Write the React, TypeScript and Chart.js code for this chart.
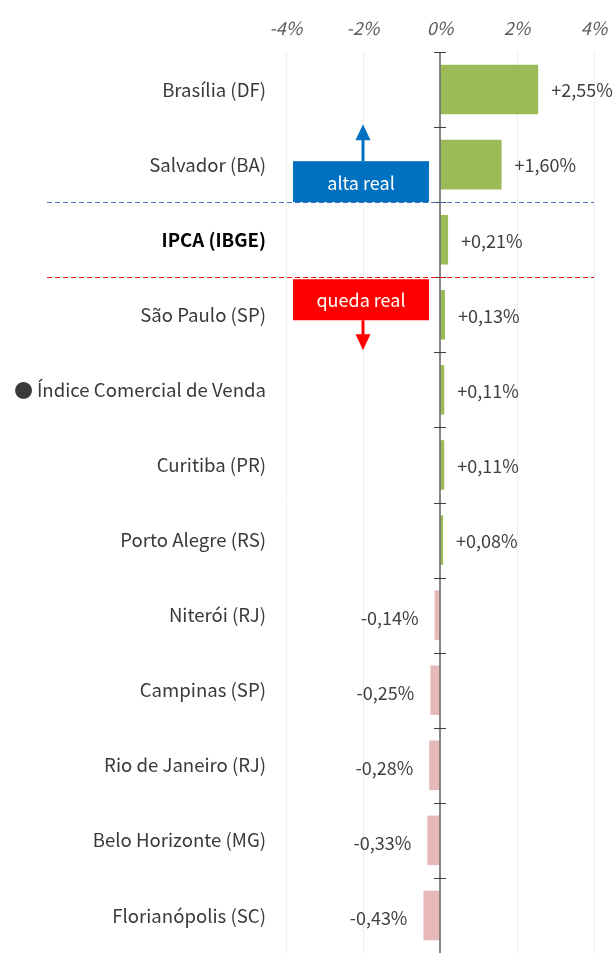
import React, { useEffect, useRef } from "react";
import { Chart, registerables } from "chart.js";

Chart.register(...registerables);

const categories = [
  "Brasília (DF)",
  "Salvador (BA)",
  "IPCA (IBGE)",
  "São Paulo (SP)",
  "● Índice Comercial de Venda",
  "Curitiba (PR)",
  "Porto Alegre (RS)",
  "Niterói (RJ)",
  "Campinas (SP)",
  "Rio de Janeiro (RJ)",
  "Belo Horizonte (MG)",
  "Florianópolis (SC)",
];
const values = [2.55, 1.6, 0.21, 0.13, 0.11, 0.11, 0.08, -0.14, -0.25, -0.28, -0.33, -0.43];
const xMin = -4;
const xMax = 4;
const xStep = 2;
const boldIndex = 2;
const altaLabel = "alta real";
const quedaLabel = "queda real";

const FONT = "'Noto Sans CJK JP', 'Noto Sans', sans-serif";
const FS = 18;
const POS = "#9BBB59";
const NEG = "#E6B9B8";

const fmt = (v: number) => (v > 0 ? "+" : "") + v.toFixed(2).replace(".", ",") + "%";

const overlay = {
  id: "overlay",
  afterDatasetsDraw(chart: any) {
    const { ctx, chartArea, scales } = chart;
    const xs = scales.x;
    const n = categories.length;
    const rowH = (chartArea.bottom - chartArea.top) / n;
    const b = (i: number) => chartArea.top + i * rowH;
    const x0 = xs.getPixelForValue(0);
    ctx.save();
    // zero line and ticks
    ctx.strokeStyle = "#5F5F5F";
    ctx.lineWidth = 1.5;
    ctx.beginPath();
    ctx.moveTo(x0, chartArea.top);
    ctx.lineTo(x0, chartArea.bottom + 2);
    ctx.stroke();
    ctx.lineWidth = 1;
    ctx.strokeStyle = "#404040";
    for (let i = 0; i <= n; i++) {
      const y = Math.round(b(i)) + 0.5;
      ctx.beginPath();
      ctx.moveTo(x0 - 6, y);
      ctx.lineTo(x0 + 6, y);
      ctx.stroke();
    }
    // value labels
    const meta = chart.getDatasetMeta(0);
    ctx.font = `${FS}px ${FONT}`;
    ctx.fillStyle = "#404040";
    ctx.textBaseline = "middle";
    meta.data.forEach((el: any, i: number) => {
      const v = values[i];
      if (v >= 0) {
        ctx.textAlign = "left";
        ctx.fillText(fmt(v), el.x + 13, el.y + 1);
      } else {
        ctx.textAlign = "right";
        ctx.fillText(fmt(v), el.x - 16, el.y + 3);
      }
    });
    // dashed separators
    const dash = (y: number, color: string) => {
      ctx.strokeStyle = color;
      ctx.lineWidth = 1.2;
      ctx.setLineDash([5, 3]);
      ctx.beginPath();
      ctx.moveTo(47, Math.round(y) + 0.5);
      ctx.lineTo(chartArea.right, Math.round(y) + 0.5);
      ctx.stroke();
      ctx.setLineDash([]);
    };
    dash(b(2), "#4472C4");
    dash(b(3), "#E81010");
    // annotation boxes
    const cx = xs.getPixelForValue(-2);
    const bx = cx - 2;
    const halfW = 68;
    const boxH = 41;
    const arrow = (x: number, y1: number, y2: number, color: string) => {
      const dir = y2 < y1 ? -1 : 1;
      ctx.strokeStyle = color;
      ctx.fillStyle = color;
      ctx.lineWidth = 3;
      ctx.beginPath();
      ctx.moveTo(x, y1);
      ctx.lineTo(x, y2 - dir * 14);
      ctx.stroke();
      ctx.beginPath();
      ctx.moveTo(x, y2);
      ctx.lineTo(x - 7.5, y2 - dir * 16);
      ctx.lineTo(x + 7.5, y2 - dir * 16);
      ctx.closePath();
      ctx.fill();
    };
    const topA = b(2) - boxH;
    ctx.fillStyle = "#0070C0";
    ctx.fillRect(bx - halfW, topA, halfW * 2, boxH);
    arrow(cx, topA, topA - 37, "#0070C0");
    const topQ = b(3) + 2;
    ctx.fillStyle = "#FF0000";
    ctx.fillRect(bx - halfW, topQ, halfW * 2, boxH);
    arrow(cx, topQ + boxH, topQ + boxH + 30, "#FF0000");
    ctx.fillStyle = "#FFFFFF";
    ctx.font = `${FS}px ${FONT}`;
    ctx.textAlign = "center";
    ctx.textBaseline = "middle";
    ctx.fillText(altaLabel, bx, topA + boxH / 2 + 1);
    ctx.fillText(quedaLabel, bx, topQ + boxH / 2);
    ctx.restore();
  },
};

export default function App() {
  const ref = useRef<HTMLCanvasElement>(null);
  useEffect(() => {
    if (!ref.current) return;
    const chart = new Chart(ref.current, {
      type: "bar",
      data: {
        labels: categories,
        datasets: [
          {
            data: values,
            backgroundColor: values.map((v) => (v >= 0 ? POS : NEG)),
            categoryPercentage: 1,
            barPercentage: 0.66,
          },
        ],
      },
      options: {
        indexAxis: "y",
        animation: false,
        responsive: false,
        maintainAspectRatio: false,
        layout: { padding: { left: 0, right: 22, top: 0, bottom: 0 } },
        plugins: { legend: { display: false }, tooltip: { enabled: false } },
        scales: {
          x: {
            position: "top",
            min: xMin,
            max: xMax,
            afterFit: (s: any) => {
              s.height = 52;
              s.paddingLeft = 0;
              s.paddingRight = 0;
            },
            border: { display: false },
            grid: {
              drawTicks: false,
              color: (c: any) => (c.tick && c.tick.value === 0 ? "rgba(0,0,0,0)" : "#EEEEEE"),
            },
            ticks: {
              stepSize: xStep,
              padding: 13,
              color: "#595959",
              font: { family: FONT, size: FS, style: "italic" },
              callback: (v: any) => `${v}%`,
            },
          },
          y: {
            afterFit: (s: any) => {
              s.width = 286;
              s.paddingTop = 0;
              s.paddingBottom = 0;
            },
            border: { display: false },
            grid: { display: false, drawTicks: false },
            ticks: {
              padding: 20,
              color: (c: any) => (c.index === boldIndex ? "#000000" : "#3A3A3A"),
              font: (c: any) => ({ family: FONT, size: 18.6, weight: c.index === boldIndex ? "bold" : "normal" }),
            },
          },
        },
      },
      plugins: [overlay],
    } as any);
    return () => chart.destroy();
  }, []);
  return (
    <div style={{ position: "fixed", left: 0, top: 0, width: 616, height: 953, background: "#fff" }}>
      <canvas ref={ref} width={616} height={953} style={{ display: "block" }} />
    </div>
  );
}
